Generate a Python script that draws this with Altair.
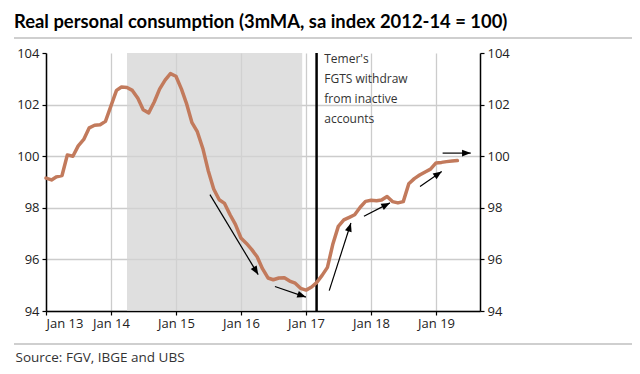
import math
import altair as alt
import pandas as pd

# ---------------- data ----------------
TITLE = "Real personal consumption (3mMA, sa index 2012-14 = 100)"
SOURCE = "Source: FGV, IBGE and UBS"
NOTE_LINES = ["Temer's", "FGTS withdraw", "from inactive", "accounts"]

months = pd.date_range("2013-01-01", "2019-05-01", freq="MS")
consumption = [
    # 2013
    99.15, 99.08, 99.20, 99.25, 100.05, 100.00, 100.40, 100.65, 101.10, 101.20, 101.22, 101.35,
    # 2014
    101.95, 102.55, 102.68, 102.66, 102.55, 102.25, 101.80, 101.68, 102.10, 102.60, 102.95, 103.20,
    # 2015
    103.10, 102.60, 102.05, 101.30, 100.95, 100.30, 99.45, 98.73, 98.31, 98.17, 97.73, 97.36,
    # 2016
    96.83, 96.62, 96.39, 96.10, 95.64, 95.28, 95.21, 95.28, 95.29, 95.16, 95.08, 94.88,
    # 2017
    94.81, 94.93, 95.10, 95.38, 95.69, 96.61, 97.28, 97.53, 97.63, 97.73, 98.02, 98.25,
    # 2018
    98.29, 98.27, 98.30, 98.44, 98.24, 98.19, 98.24, 98.93, 99.13, 99.27, 99.39, 99.50,
    # 2019
    99.74, 99.76, 99.79, 99.81, 99.83,
]

recession_start = ["2014-04-01"]
recession_end = ["2016-12-10"]
fgts_date = ["2017-03-01"]
note_date = ["2017-04-13"]
note_value = [104.0]

arrow_start_dates = ["2015-07-11", "2016-07-10", "2017-05-11", "2017-11-22", "2018-10-03", "2019-02-07"]
arrow_start_vals = [98.51, 94.95, 94.79, 97.67, 98.83, 100.12]
arrow_end_dates = ["2016-04-07", "2016-12-31", "2017-09-10", "2018-04-17", "2019-02-02", "2019-07-15"]
arrow_end_vals = [95.41, 94.54, 97.41, 98.19, 99.41, 100.12]

year_ticks = [alt.DateTime(year=y, month=1, date=1) for y in range(2013, 2020)]
y_ticks = [94, 96, 98, 100, 102, 104]

# ---------------- layout constants ----------------
W, H = 434, 258
X_MIN, X_MAX = "2013-01-01", "2019-09-05"
Y_MIN, Y_MAX = 94, 104
LINE_COLOR = "#c27a5c"
FONT = "Open Sans"

x_scale = alt.Scale(domain=[alt.DateTime(year=2013, month=1, date=1),
                            alt.DateTime(year=2019, month=9, date=5)])
y_scale = alt.Scale(domain=[Y_MIN, Y_MAX], nice=False, zero=False)

# ---------------- frames ----------------
line_df = pd.DataFrame({"date": months, "value": consumption})
shade_df = pd.DataFrame({"start": pd.to_datetime(recession_start), "end": pd.to_datetime(recession_end)})
fgts_df = pd.DataFrame({"date": pd.to_datetime(fgts_date)})
note_df = pd.DataFrame({"date": pd.to_datetime(note_date), "value": note_value})

arrows = pd.DataFrame({
    "x0": pd.to_datetime(arrow_start_dates), "y0": arrow_start_vals,
    "x1": pd.to_datetime(arrow_end_dates), "y1": arrow_end_vals,
})
px_per_day = W / (pd.Timestamp(X_MAX) - pd.Timestamp(X_MIN)).days
px_per_unit = H / (Y_MAX - Y_MIN)
angles = []
for _, r in arrows.iterrows():
    dx = (r.x1 - r.x0).days * px_per_day
    dy = -(r.y1 - r.y0) * px_per_unit
    angles.append(math.degrees(math.atan2(dx, -dy)) % 360)
arrows["angle"] = angles

one = pd.DataFrame({"k": [0]})

# ---------------- layers ----------------
shade = alt.Chart(shade_df).mark_rect(color="#d2d2d2", opacity=0.72).encode(
    x=alt.X("start:T", scale=x_scale, axis=None),
    x2="end:T",
)

fgts = alt.Chart(fgts_df).mark_rule(color="black", strokeWidth=2.5).encode(
    x=alt.X("date:T", scale=x_scale, axis=None),
)

line = alt.Chart(line_df).mark_line(
    color=LINE_COLOR, strokeWidth=3.5, strokeJoin="round", strokeCap="round"
).encode(
    x=alt.X("date:T", scale=x_scale, axis=alt.Axis(
        orient="bottom", values=year_ticks, format="%b %y", grid=True,
        title=SOURCE, titleX=-31, titleY=46, titleAlign="left", titleBaseline="middle",
        titleFont=FONT, titleFontSize=13.5, titleFontWeight="normal", titleColor="#333333",
        labelPadding=2,
    )),
    y=alt.Y("value:Q", scale=y_scale, axis=alt.Axis(
        orient="left", values=y_ticks, grid=True, title=None, labelPadding=3,
        gridOpacity={"condition": {"test": "datum.value == 104", "value": 0}, "value": 1},
    )),
)

arrow_lines = alt.Chart(arrows).mark_rule(color="black", strokeWidth=1.2).encode(
    x=alt.X("x0:T", scale=x_scale, axis=None),
    y=alt.Y("y0:Q", scale=y_scale, axis=alt.Axis(
        orient="right", values=y_ticks, grid=False, title=None, labelPadding=3)),
    x2="x1:T",
    y2="y1:Q",
)

arrow_heads = alt.Chart(arrows).mark_point(
    shape="M0,0L-0.4,1L0.4,1Z", filled=True, size=300, color="black", opacity=1, strokeWidth=0
).encode(
    x=alt.X("x1:T", scale=x_scale, axis=None),
    y=alt.Y("y1:Q", scale=y_scale, axis=None),
    angle=alt.Angle("angle:Q", scale=None),
)

note = alt.Chart(note_df).mark_text(
    text=NOTE_LINES, align="left", baseline="top", lineHeight=20,
    font=FONT, fontSize=12, color="#333333", dy=1,
).encode(
    x=alt.X("date:T", scale=x_scale, axis=None),
    y=alt.Y("value:Q", scale=y_scale, axis=None),
)

sep_top = alt.Chart(one).mark_rule(color="#cfcfcf", strokeWidth=2).encode(
    x=alt.value(-32), x2=alt.value(594), y=alt.value(-15)
)
sep_bottom = alt.Chart(one).mark_rule(color="#cfcfcf", strokeWidth=2).encode(
    x=alt.value(-32), x2=alt.value(594), y=alt.value(291)
)

chart = alt.layer(
    shade, fgts, line, arrow_lines, arrow_heads, note, sep_top, sep_bottom
).resolve_axis(x="independent", y="independent").properties(
    width=W, height=H,
    autosize=alt.AutoSizeParams(type="none"),
    padding={"left": 38, "top": 45, "right": 152, "bottom": 55},
    title=alt.TitleParams(
        text=TITLE, anchor="start", frame="group", dx=-32, dy=-2,
        font="Lato", fontSize=18.4, fontWeight="bold", color="black",
    ),
).configure_view(stroke=None).configure_axis(
    labelFont=FONT, labelFontSize=13, labelColor="#222222",
    domainColor="black", domainWidth=1.5, tickColor="black", tickSize=4, tickWidth=1.2,
    gridColor="#cccccc", gridWidth=1.3,
)

chart.save("out.html", embed_options={"renderer": "svg", "actions": False})
